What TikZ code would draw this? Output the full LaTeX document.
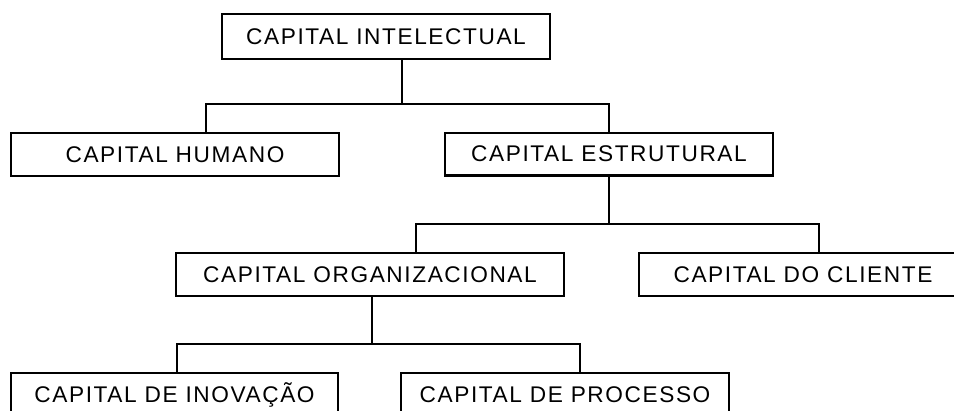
\documentclass[tikz,border=0pt]{standalone}
\usepackage{fontspec}
\usetikzlibrary{calc}
\newfontfamily\boxfont[LetterSpace=7]{Liberation Sans}

\begin{document}
\begin{tikzpicture}[x=0.02cm,y=-0.02cm,
	box/.style={draw,line width=1.15pt,inner sep=0pt,
		minimum width=6.56cm,minimum height=0.86cm,
		font=\boxfont\fontsize{12.9}{15}\selectfont},
	link/.style={line width=1.15pt}]
	\useasboundingbox (0,0) rectangle (954,410);
	\clip (0,0) rectangle (954,410);
	\node[box,minimum height=0.9cm](intel) at (386,36.5){CAPITAL INTELECTUAL};
	\node[box](humano) at (175,154.5){CAPITAL HUMANO};
	\node[box](estrut) at (609,154){CAPITAL ESTRUTURAL};
	\node[box,minimum width=7.76cm](organ) at (370,274.5){CAPITAL ORGANIZACIONAL};
	\node[box](cliente) at (803,274.5){CAPITAL DO CLIENTE};
	\node[box](inov) at (174.5,394.5){CAPITAL DE INOVAÇÃO};
	\node[box](proc) at (565,394.5){CAPITAL DE PROCESSO};
	% branch points
	\coordinate (bus1) at (402,104);
	\coordinate (bus2) at (609,224);
	\coordinate (bus3) at (372,344);
	\draw[link](bus1 |- intel.south)--(bus1);
	\draw[link]($(humano.north)+(31,0)$)|-(bus1)-|(estrut.north);
	\draw[link](estrut.south)--(bus2);
	\draw[link]($(organ.north)+(46,0)$)|-(bus2)-|($(cliente.north)+(16,0)$);
	\draw[link](bus3 |- organ.south)--(bus3);
	\draw[link]($(inov.north)+(2.5,0)$)|-(bus3)-|($(proc.north)+(15,0)$);
\end{tikzpicture}
\end{document}
